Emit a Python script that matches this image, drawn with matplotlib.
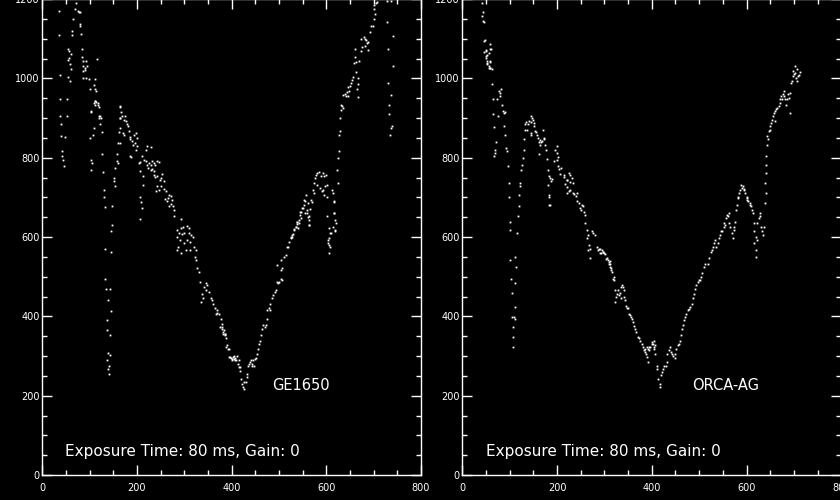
import matplotlib
matplotlib.use("Agg")
import matplotlib.pyplot as plt
from matplotlib.ticker import MultipleLocator

# ---------------- data (x, y) ----------------
# GE1650 panel
ge_left_column = [(35,1169),(35,1109),(37,1008),(37,947),(37,906),(39,884),(39,854),(41,816),
    (41,803),(43,795),(45,778),(52,948),(52,905),(48,852),(54,1075),(56,1069),(61,1061),(56,1052),
    (54,1046),(59,1035),(61,1023),(54,1004),(58,993),(64,1149),(63,1120),(63,1109)]
ge_top = [(72,1190),(70,1175),(75,1170),(77,1168),(80,1166),(79,1137),(79,1131),(82,1111),
    (84,1073),(84,1055),(86,1044),(93,1044),(87,1031),(91,1027),(90,1020),(87,1019),(94,1031),
    (93,1002),(87,1002),(98,999),(116,1048),(112,999),(110,982),(100,972),(112,972),(114,968),
    (111,944),(114,940),(117,934),(112,932),(119,928),(121,906),(119,900),(102,915)]
ge_dip1 = [(109,937),(112,943),(117,939),(102,917),(119,905),(123,901),(121,884),(126,864),
    (109,875),(107,856),(100,850),(126,810),(102,795),(105,787),(103,770),(128,763),(130,719),
    (130,702),(133,675),(147,630),(145,614),(132,569),(146,561),(133,493),(135,470),(144,468),
    (139,441),(145,413),(137,392),(137,365),(142,354),(139,307),(142,303),(137,289),(140,276),
    (139,268),(140,255)]
ge_descent = [(165,928),(166,915),(164,900),(174,906),(165,930),(164,901),(169,906),(172,896),
    (176,892),(178,884),(181,879),(164,875),(162,864),(171,863),(172,858),(183,867),(159,837),
    (165,837),(185,852),(186,846),(190,842),(193,858),(197,863),(199,850),(195,837),(192,833),
    (200,829),(197,820),(185,805),(188,802),(158,810),(157,791),(159,787),(154,774),(151,749),
    (152,740),(154,729),(147,679),(204,787),(206,788),(211,804),(214,795),(221,829),(229,826),
    (220,820),(219,791),(221,782),(225,787),(229,782),(232,791),(236,787),(239,782),(243,791),
    (246,788),(206,766),(213,753),(213,732),(207,702),(209,687),(211,673),(207,645),(223,774),
    (229,770),(232,771),(237,766),(236,757),(239,751),(243,753),(248,744),(251,749),(253,760),
    (257,740),(250,729),(243,728),(241,717),(246,719),(258,721),(262,715),(267,706),(271,704),
    (265,698),(260,695),(264,690),(274,694),(272,684),(276,677),(267,677),(278,668),(279,653),
    (292,645),(298,626),(292,622),(306,628),(310,622),(284,618),(288,609),(296,608),(300,609),
    (310,609),(315,605),(319,601),(285,601),(291,592),(306,592),(299,584),(312,588),(320,576),
    (286,576),(285,566),(292,560),(303,566),(313,567),(324,567),(322,550),(324,542),(327,521),
    (331,512),(334,487),(341,474),(345,483),(348,479),(338,457),(336,436),(340,445),(345,466),
    (352,462),(356,445),(359,441),(361,430),(364,420),(368,417),(370,409),(366,407),(373,407),
    (377,394),(375,373),(380,369),(384,365),(387,356),(389,346),(382,356),(391,327),(394,318),
    (396,297),(401,293),(405,299),(408,295),(412,299),(415,289),(417,272),(408,289)]
ge_valley = [(380,381),(379,373),(382,360),(385,356),(387,352),(389,322),(392,318),(394,297),
    (398,295),(401,289),(403,297),(406,293),(410,290),(413,280),(415,272),(418,263),(420,242),
    (422,230),(425,221),(427,217),(426,234),(430,234),(432,246),(433,255),(434,276),(437,280),
    (439,284),(440,289),(442,276),(444,280),(446,289),(447,276),(449,293),(451,295),(454,306),
    (456,318),(458,329),(460,339),(461,352),(465,369),(467,377),(470,373),(472,377),(474,394),
    (475,415),(479,420),(482,415),(481,432),(486,445),(488,453),(491,462),(493,466),(495,487),
    (498,484),(500,487),(504,493),(507,491),(495,529),(504,517),(507,521),(505,542),(511,550),
    (514,555),(516,576),(519,576),(521,588),(525,597),(528,605),(530,608),(532,620),(535,625),
    (540,622),(542,635),(537,639),(546,647),(544,664),(549,673),(553,681),(556,690),(561,685),
    (559,660),(564,652),(564,631),(567,694)]
ge_rise = [(525,601),(528,599),(532,618),(535,626),(539,639),(542,643),(538,633),(545,656),
    (547,664),(550,672),(553,694),(557,706),(554,660),(559,668),(561,651),(564,643),(564,630),
    (566,670),(569,689),(571,719),(574,736),(573,710),(576,748),(578,757),(581,761),(585,765),
    (588,753),(592,761),(595,753),(599,757),(580,732),(587,723),(590,715),(594,719),(595,706),
    (597,729),(601,702),(602,732),(613,719),(615,710),(617,689),(617,660),(618,643),(615,626),
    (618,618),(608,609),(606,597),(608,575),(604,586),(602,652),(606,622),(609,609),(604,593),
    (606,580),(606,560),(616,660),(620,635),(618,614),(616,690),(622,770),(624,737),(625,799),
    (626,816),(627,858),(628,867),(629,900),(631,921),(634,930),(632,934),(636,926),(636,957),
    (639,961),(642,955),(645,955),(643,965),(648,968),(646,979),(650,981),(653,989),(655,997),
    (657,1004),(664,972),(666,954),(667,985),(666,1002),(662,1016),(659,1038),(662,1040),
    (660,1055),(669,1044),(661,1075),(673,1069),(676,1078),(674,1100),(679,1105),(681,1100),
    (684,1097),(686,1090),(688,1092),(681,1082),(687,1072),(693,1116),(694,1132),(698,1132),
    (701,1149),(703,1162),(700,1175),(701,1185),(705,1190),(707,1192)]
ge_right_column = [(729,1196),(736,1196),(729,1143),(740,1107),(731,1073),(740,1031),(731,987),
    (736,959),(733,934),(733,909),(736,875),(735,858),(738,879)]

# ORCA-AG panel
orca_top = [(41,1190),(44,1166),(41,1156),(44,1145),(45,1143),(45,1094),(47,1097),(58,1086),
    (49,1072),(59,1073),(46,1067),(56,1063),(52,1058),(51,1052),(58,1044),(52,1038),(56,1031),
    (59,1027),(63,1024),(49,1069),(51,1057),(52,1036),(56,1027),(59,1027),(53,1044),(58,1040),
    (61,1074),(63,985),(65,949),(73,947),(75,905),(65,909),(77,968),(79,962),(80,955),(82,974),
    (84,934),(86,917),(89,913),(91,915),(87,879),(91,858),(72,839),(66,878),(70,812),(68,820),
    (66,804),(93,825),(94,816)]
orca_dip = [(96,778),(98,736),(98,702),(100,639),(100,618),(101,542),(103,495),(105,459),
    (105,398),(107,373),(107,348),(108,322),(112,550),(114,525),(112,483),(112,424),(110,398),
    (112,394),(115,609),(117,654),(119,677),(119,706),(121,728),(122,736),(124,770),(126,782),
    (128,799),(130,820),(131,846),(133,871),(133,886),(135,890)]
orca_descent = [(137,871),(139,884),(140,892),(144,863),(145,858),(144,890),(145,905),(147,901),
    (149,896),(151,888),(152,881),(154,867),(156,864),(158,856),(159,850),(161,839),(163,844),
    (165,833),(166,839),(168,842),(170,871),(172,850),(173,846),(175,833),(177,820),(161,810),
    (179,797),(180,770),(182,753),(186,749),(187,740),(189,746),(181,732),(182,706),(184,701),
    (182,681),(186,681),(193,791),(196,820),(199,829),(200,812),(201,802),(200,795),(203,778),
    (205,771),(208,774),(207,760),(214,757),(215,751),(220,743),(222,743),(225,761),(227,757),
    (228,738),(232,749),(234,736),(217,734),(220,726),(221,712),(225,715),(228,719),(234,711),
    (236,709),(239,704),(242,711),(242,690),(246,685),(248,673),(253,681),(251,669),(255,679),
    (256,662),(258,656),(260,636),(263,618),(265,605),(263,597),(267,580),(265,567),(270,571),
    (269,546),(274,614),(276,609),(281,605),(284,576),(286,567),(288,569),(290,559),(291,571),
    (293,560),(297,563),(300,559),(304,544),(307,542),(311,540),(309,533),(312,525),(314,517),
    (316,512),(320,500),(321,491),(323,466),(325,449),(327,457),(328,466),(330,453),(332,459),
    (334,447),(335,474),(337,479),(339,473),(341,466),(342,449),(344,442),(346,425),(348,422),
    (349,420),(351,407),(355,403),(356,398),(358,394),(360,386),(363,375),(365,369),(367,360),
    (370,349),(372,346),(376,338),(379,329),(381,322),(386,318),(390,322),(400,331),(404,339),
    (405,322),(407,327),(395,322),(295,567),(298,563),(302,557),(305,546),(309,538),(312,533),
    (314,521),(318,495),(323,436)]
orca_valley = [(384,314),(386,310),(388,306),(390,297),(391,284),(393,318),(395,314),(397,322),
    (400,335),(402,331),(405,318),(407,306),(411,276),(412,268),(414,242),(417,230),(418,221),
    (419,251),(422,259),(424,268),(426,276),(429,276),(432,284),(433,306),(436,314),(438,322),
    (440,310),(443,306),(445,301),(448,295),(450,306),(452,318),(455,327),(457,331),(459,339),
    (462,352),(464,369),(466,377),(469,390),(471,398),(473,407),(476,415),(478,419),(481,424),
    (485,432),(487,445),(490,457),(492,468),(494,479),(497,487),(499,491),(501,491),(504,500),
    (506,510),(510,525),(513,533),(518,533),(520,546),(524,563),(527,567),(529,576),(531,584),
    (534,593),(536,576),(539,584),(541,597),(543,605),(546,614),(548,614),(552,626),(553,635),
    (555,631),(557,647),(559,656),(560,652),(562,660),(564,635),(566,626),(569,609),(571,597),
    (573,618),(574,626),(576,639)]
orca_rise = [(578,669),(580,681),(581,698),(583,702),(585,711),(587,719),(588,732),(590,723),
    (592,728),(594,719),(595,721),(597,711),(600,702),(601,694),(602,698),(604,690),(607,681),
    (608,685),(609,677),(612,669),(614,660),(615,635),(616,614),(619,601),(616,584),(619,567),
    (621,550),(622,593),(623,635),(626,647),(628,660),(629,652),(631,626),(633,614),(635,605),
    (636,626),(638,685),(640,711),(638,736),(640,761),(640,782),(642,804),(643,833),(645,846),
    (643,854),(647,867),(649,871),(650,881),(652,888),(654,896),(656,905),(657,912),(659,892),
    (661,917),(663,922),(664,926),(668,930),(670,939),(671,949),(673,955),(675,947),(677,960),
    (678,968),(680,955),(682,947),(684,934),(685,947),(687,960),(689,951),(691,964),(692,913),
    (694,989),(696,993),(698,1006),(699,1019),(701,1010),(703,1013),(705,1002),(707,993),
    (708,1006),(710,1008),(712,1015),(703,1031),(707,1023)]

ge_points = ge_left_column + ge_top + ge_dip1 + ge_descent + ge_valley + ge_rise + ge_right_column
orca_points = orca_top + orca_dip + orca_descent + orca_valley + orca_rise

panels = [
    dict(points=ge_points, name="GE1650", name_pos=(485, 225), note_pos=(48, 58)),
    dict(points=orca_points, name="ORCA-AG", name_pos=(486, 225), note_pos=(51, 58)),
]
note = "Exposure Time: 80 ms, Gain: 0"

# ---------------- drawing ----------------
fig = plt.figure(figsize=(8.4, 5.0), dpi=100, facecolor="black")
rects = [[42.3/840, 25/500, 378.7/840, 476/500],
         [462.3/840, 25/500, 379/840, 476/500]]

for rect, p in zip(rects, panels):
    ax = fig.add_axes(rect)
    ax.set_facecolor("black")
    xs = [q[0] for q in p["points"]]
    ys = [q[1] for q in p["points"]]
    ax.plot(xs, ys, linestyle="none", marker="s", markersize=1.3,
            markeredgewidth=0, color="white")
    ax.set_xlim(0, 800)
    ax.set_ylim(0, 1200)
    ax.xaxis.set_major_locator(MultipleLocator(200))
    ax.xaxis.set_minor_locator(MultipleLocator(50))
    ax.yaxis.set_major_locator(MultipleLocator(200))
    ax.yaxis.set_minor_locator(MultipleLocator(50))
    for s in ax.spines.values():
        s.set_color("white")
        s.set_linewidth(1.0)
    ax.tick_params(which="both", direction="in", top=True, right=True,
                   colors="white", width=1.0, labelsize=7)
    ax.tick_params(which="major", length=7)
    ax.tick_params(which="minor", length=3.5)
    ax.tick_params(axis="x", pad=6)
    ax.tick_params(axis="y", pad=2)
    ax.text(p["name_pos"][0], p["name_pos"][1], p["name"], color="white",
            fontsize=10.5, va="center", ha="left")
    ax.text(p["note_pos"][0], p["note_pos"][1], note, color="white",
            fontsize=11, va="center", ha="left")

fig.savefig("out.png", dpi=100, facecolor="black")
